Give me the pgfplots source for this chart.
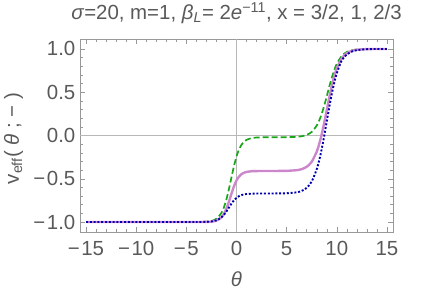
\documentclass[border=0pt]{standalone}
\usepackage{fontspec}
\setmainfont{Liberation Sans}
\usepackage{pgfplots}
\pgfplotsset{compat=1.18}
\usepackage{pgfplotstable}
\definecolor{txt}{gray}{0.35}
\definecolor{frm}{gray}{0.6}
\definecolor{ax0}{gray}{0.72}
\definecolor{cg}{rgb}{0.1,0.65,0.1}
\definecolor{cp}{rgb}{0.8,0.53,0.8}
\definecolor{cb}{rgb}{0,0,0.7}
\newcommand\fs{\fontsize{20.5}{24}\selectfont}
\pgfplotstableread{
x g p b
-15 -1 -1 -1
-5 -1 -1 -1
-4 -0.9995 -0.9999 -0.9997
-3 -0.9958 -0.9986 -0.9977
-2.5 -0.9873 -0.9951 -0.9931
-2 -0.9623 -0.9831 -0.9799
-1.5 -0.894 -0.945 -0.9456
-1.25 -0.8293 -0.905 -0.9155
-1 -0.7365 -0.8442 -0.8763
-0.75 -0.617 -0.7632 -0.8313
-0.5 -0.4829 -0.672 -0.7869
-0.25 -0.3524 -0.5867 -0.749
0 -0.243 -0.5199 -0.7205
0.25 -0.1617 -0.4744 -0.701
0.5 -0.1066 -0.4463 -0.6885
0.75 -0.0716 -0.43 -0.6809
1 -0.0504 -0.4209 -0.6763
1.5 -0.0302 -0.4132 -0.6721
2 -0.0234 -0.4109 -0.6707
3 -0.0204 -0.41 -0.6701
4 -0.0199 -0.4097 -0.6694
5 -0.0192 -0.4082 -0.6672
6 -0.0152 -0.4006 -0.6564
6.5 -0.0086 -0.3885 -0.64
7 0.0067 -0.3614 -0.6046
7.5 0.0414 -0.303 -0.531
8 0.1153 -0.186 -0.3894
8.25 0.1749 -0.096 -0.2834
8.5 0.2525 0.0171 -0.1523
8.75 0.3475 0.1502 0.0002
9 0.4546 0.295 0.165
9.25 0.5649 0.4398 0.3298
9.5 0.6683 0.5729 0.4823
9.75 0.7574 0.686 0.6134
10 0.8286 0.776 0.7194
10.5 0.9203 0.893 0.8711
11 0.965 0.9514 0.9345
11.5 0.985 0.9784 0.97
12 0.9937 0.9906 0.9863
13 0.9989 0.9982 0.9972
14 0.9998 0.9997 0.9994
15 1 1 1
}\data
\begin{document}
\begin{tikzpicture}
\begin{axis}[
  at={(0,0)}, anchor=south west,
  scale only axis, width=313bp, height=193bp,
  xmin=-15.6, xmax=15.6, ymin=-1.115, ymax=1.115,
  axis line style={frm, line width=0.6bp},
  tick style={frm, line width=0.5bp},
  tick align=inside, tick pos=both,
  major tick length=5bp, minor tick length=3bp,
  xtick={-15,-10,-5,0,5,10,15},
  xticklabels={−\kern1.5bp15,−\kern1.5bp10,−\kern1.5bp5,0,5,10,15},
  minor x tick num=4,
  ytick={-1,-0.5,0,0.5,1},
  yticklabels={−\kern1.5bp1.0,−\kern1.5bp0.5,0.0,0.5,1.0},
  minor y tick num=4,
  xticklabel style={font=\fs, text=txt, anchor=base, inner sep=0pt, yshift=-23.7bp},
  yticklabel style={font=\fs, text=txt, anchor=east, inner sep=0pt, xshift=-4.5bp},
  clip mode=individual,
]
\draw[ax0, line width=0.5bp] (axis cs:0,-1.115) -- (axis cs:0,1.115);
\draw[ax0, line width=0.5bp] (axis cs:-15.6,0) -- (axis cs:15.6,0);
\addplot[cg, line width=1.7bp, dash pattern=on 6bp off 3bp, smooth] table[x=x,y=g]{\data};
\addplot[cp, line width=2.4bp, smooth] table[x=x,y=p]{\data};
\addplot[cb, line width=1.9bp, dash pattern=on 2bp off 1.8bp, smooth] table[x=x,y=b]{\data};
\node[anchor=base, yshift=19.3bp, text=txt, font=\fs, inner sep=0pt] at (rel axis cs:0.5,1)
  {\textit{σ}=20, m=1, \textit{β}\textsubscript{\textit{L}}= 2\textit{e}\textsuperscript{−11}, x = 3/2, 1, 2/3};
\node[anchor=base, yshift=-54.7bp, text=txt, font=\fs, inner sep=0pt] at (rel axis cs:0.5,0) {\textit{θ}};
\node[xshift=-66.5bp, yshift=-3bp, rotate=90, anchor=center, text=txt, font=\fs, inner sep=0pt] at (rel axis cs:0,0.5)
  {v\textsubscript{eff}( \textit{θ} ; − )};
\end{axis}
\pgfresetboundingbox
\path[use as bounding box] (-80bp,-62bp) rectangle (351bp,232bp);
\end{tikzpicture}
\end{document}
